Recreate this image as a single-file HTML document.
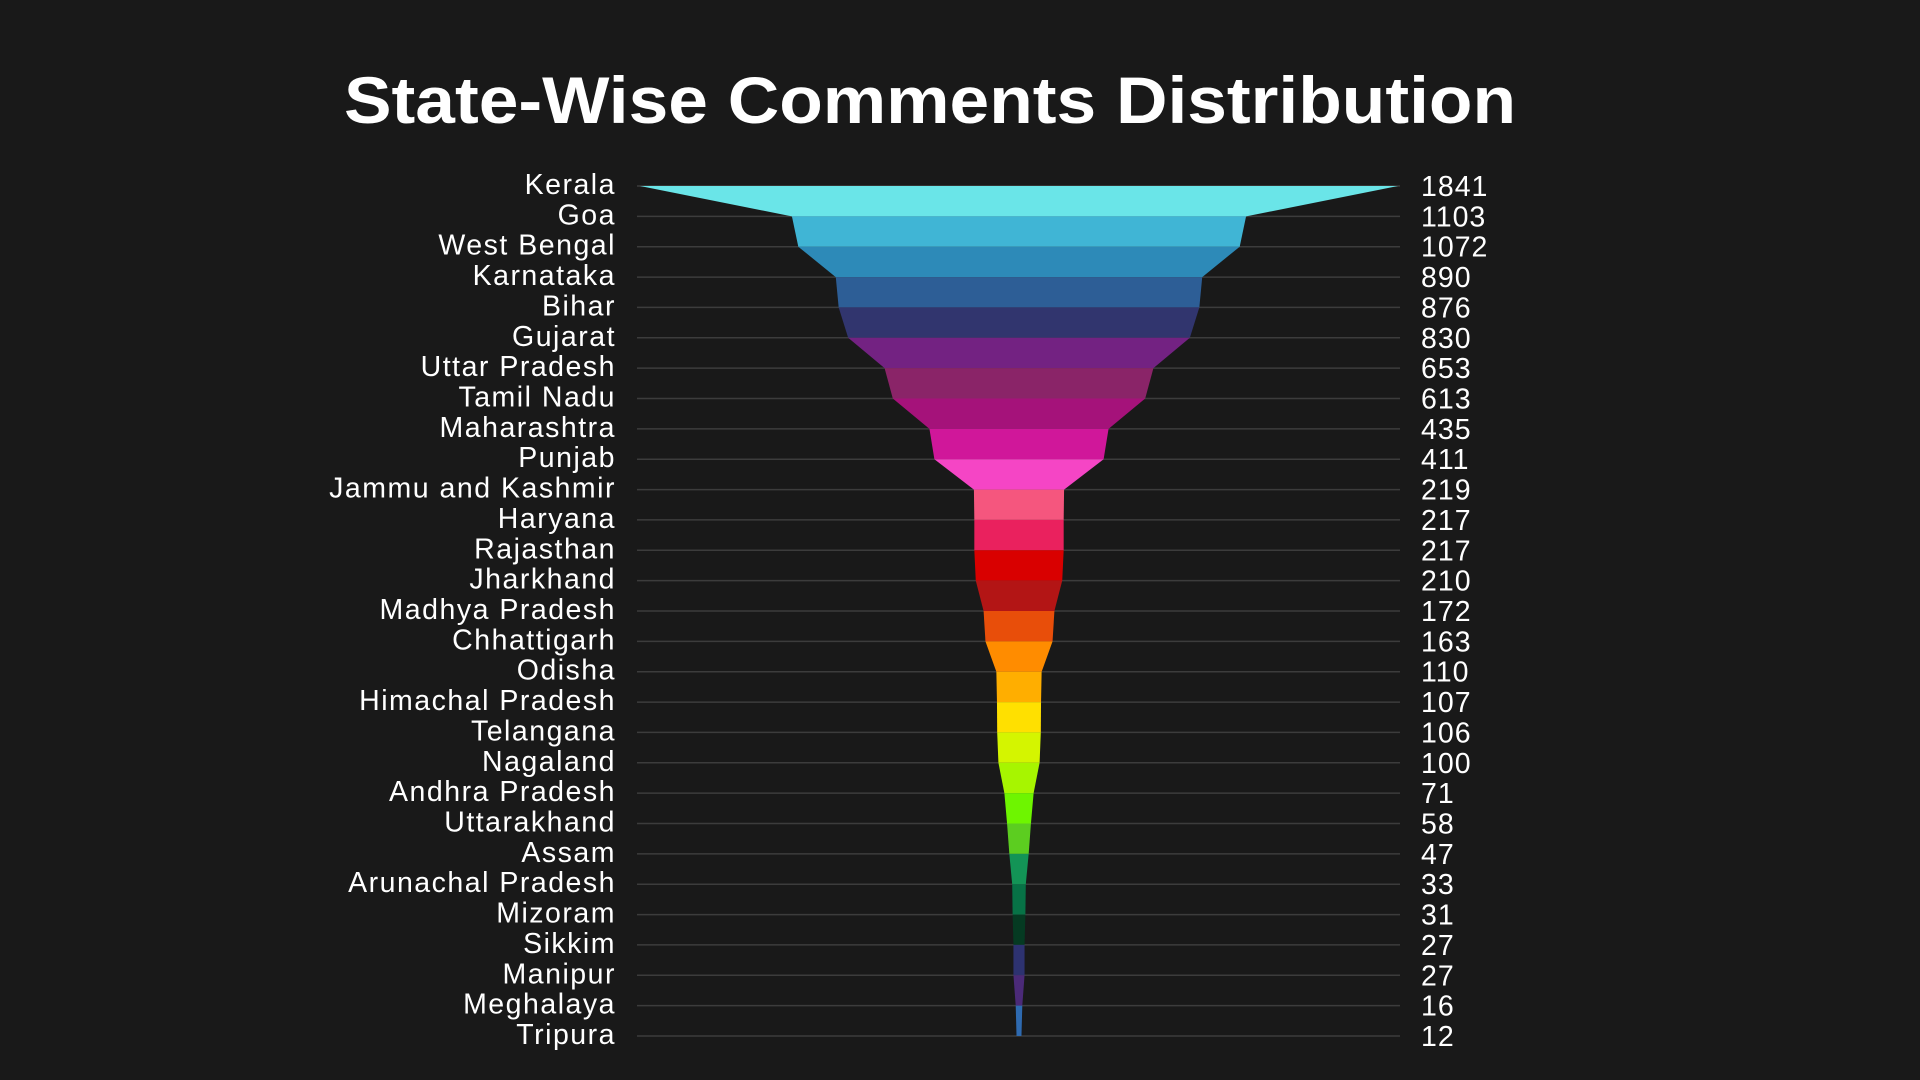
<!DOCTYPE html>
<html><head><meta charset="utf-8"><style>
html,body{margin:0;padding:0;background:#191919;}
svg{display:block}
</style></head><body>
<svg id="chart" width="1920" height="1080" viewBox="0 0 1920 1080" xmlns="http://www.w3.org/2000/svg">
<rect width="1920" height="1080" fill="#191919"/>
<text x="930" y="123" text-anchor="middle" font-family="'Liberation Sans', sans-serif" font-weight="bold" font-size="66" fill="#ffffff" textLength="1172" lengthAdjust="spacingAndGlyphs">State-Wise Comments Distribution</text>
<g id="grid"></g><g id="bands"></g><g id="labels"></g><g id="values"></g>
</svg>
<script>
const states = ["Kerala","Goa","West Bengal","Karnataka","Bihar","Gujarat","Uttar Pradesh","Tamil Nadu","Maharashtra","Punjab","Jammu and Kashmir","Haryana","Rajasthan","Jharkhand","Madhya Pradesh","Chhattigarh","Odisha","Himachal Pradesh","Telangana","Nagaland","Andhra Pradesh","Uttarakhand","Assam","Arunachal Pradesh","Mizoram","Sikkim","Manipur","Meghalaya","Tripura"];
const comments = [1841,1103,1072,890,876,830,653,613,435,411,219,217,217,210,172,163,110,107,106,100,71,58,47,33,31,27,27,16,12];
const colors = ["#6ae5e8","#40b5d5","#2d8ab8","#2d5e96","#31356e","#732282","#8a2468","#a5127a","#d0179a","#f545c5","#f5567e","#ea215e","#d90000","#b31515","#e84e0a","#ff8c00","#ffae00","#ffe000","#d4f500","#a7f500","#6ef500","#5ccd20","#139456","#077246","#053a22","#2d3270","#4b2a78","#2e6ab0","#2e6ab0"];
const NS="http://www.w3.org/2000/svg";
const cx=1019, yTop=186, yBot=1036, n=states.length, nb=n-1, maxV=Math.max(...comments), maxW=758;
const bandH=(yBot-yTop)/nb;
const w=v=>v/maxV*maxW;
const yBand=i=>yTop+i*bandH;
const yLab=i=>yTop+i*(yBot-yTop)/(n-1);
const grid=document.getElementById('grid'), bands=document.getElementById('bands'), labels=document.getElementById('labels'), values=document.getElementById('values');
for(let i=0;i<=nb;i++){
  const l=document.createElementNS(NS,'line');
  l.setAttribute('x1',637);l.setAttribute('x2',1400);
  l.setAttribute('y1',yBand(i));l.setAttribute('y2',yBand(i));
  l.setAttribute('stroke','#3c3c3c');l.setAttribute('stroke-width','1.5');
  
  
  grid.appendChild(l);
}
for(let i=0;i<n;i++){
  if(i<nb){
    const a=w(comments[i])/2, b=w(comments[i+1])/2;
    const y0=yBand(i), y1=yBand(i+1);
    const p=document.createElementNS(NS,'polygon');
    p.setAttribute('points',`${cx-a},${y0} ${cx+a},${y0} ${cx+b},${y1} ${cx-b},${y1}`);
    p.setAttribute('fill',colors[i]);
    
    
    bands.appendChild(p);
  }
  const t=document.createElementNS(NS,'text');
  t.setAttribute('x',616);t.setAttribute('y',yLab(i)+8);
  t.setAttribute('text-anchor','end');t.setAttribute('fill','#ffffff');
  t.setAttribute('font-family',"'Liberation Sans', sans-serif");t.setAttribute('font-size','28.5');
  t.setAttribute('letter-spacing','1.5');
  t.textContent=states[i];
  
  
  labels.appendChild(t);
  const v=document.createElementNS(NS,'text');
  v.setAttribute('x',1421);v.setAttribute('y',yLab(i)+10);
  v.setAttribute('fill','#ffffff');
  v.setAttribute('font-family',"'Liberation Sans', sans-serif");v.setAttribute('font-size','28.5');
  v.setAttribute('letter-spacing','1');
  v.textContent=comments[i];
  
  
  values.appendChild(v);
}
</script>
</body></html>
